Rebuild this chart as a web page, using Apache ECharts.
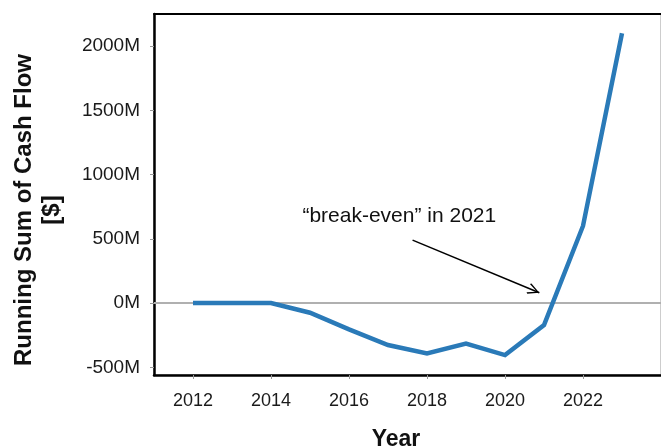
<!DOCTYPE html>
<html>
<head>
<meta charset="utf-8">
<script src="https://cdn.jsdelivr.net/npm/echarts@6/dist/echarts.min.js"></script>
<style>
  html, body { margin: 0; padding: 0; background: #fff; }
  #chart { width: 661px; height: 448px; }
</style>
</head>
<body>
<div id="chart"></div>
<script>
// ---- data ----
const years = [2012, 2013, 2014, 2015, 2016, 2017, 2018, 2019, 2020, 2021, 2022, 2023];
const runningSumM = [0, 0, 0, -75, -205, -327, -392, -316, -405, -171, 600, 2100];
const annotationText = '\u201Cbreak-even\u201D in 2021';

// annotation anchors (data coordinates)
const annotationAt = [2017.29, 673];
const arrowFrom = [2017.63, 490];
const arrowTo = [2020.88, 80];

const FONT = '"Liberation Sans", Arial, sans-serif';
const chevron = 'path://M5,0 L10,9 L9,10 L5,2.2 L1,10 L0,9 Z';

const chart = echarts.init(document.getElementById('chart'), null, { renderer: 'canvas' });
chart.setOption({
  animation: false,
  backgroundColor: '#fff',
  grid: {
    left: 154, right: 0, top: 14, bottom: 73,
    show: true, borderColor: '#9a9a9a', borderWidth: 1,
    containLabel: false, outerBoundsMode: 'none'
  },
  xAxis: [{
    type: 'value', min: 2011, max: 2024, splitNumber: 6,
    name: 'Year', nameLocation: 'middle', nameGap: 53,
    nameTextStyle: { fontFamily: FONT, fontSize: 23, fontWeight: 'bold', color: '#111', padding: [0, 23, 0, 0] },
    axisLine: { show: true, onZero: false, lineStyle: { color: '#000', width: 2.5 } },
    axisTick: { show: true, length: 4, lineStyle: { color: '#999', width: 1 } },
    axisLabel: {
      fontFamily: FONT, fontSize: 18, color: '#1a1a1a', margin: 17,
      showMinLabel: false, showMaxLabel: false,
      formatter: v => String(v)
    },
    splitLine: { show: false }
  }, {
    type: 'value', min: 2011, max: 2024, position: 'top',
    axisLine: { show: true, onZero: false, lineStyle: { color: '#000', width: 2 } },
    axisTick: { show: false }, axisLabel: { show: false }, splitLine: { show: false }
  }],
  yAxis: {
    type: 'value', min: -560, max: 2250,
    name: 'Running Sum of Cash Flow\n[$]', nameLocation: 'middle', nameGap: 88, nameRotate: 90,
    nameTextStyle: { fontFamily: FONT, fontSize: 24, fontWeight: 'bold', color: '#111', lineHeight: 28, align: 'center', padding: [0, 31, 0, 0] },
    axisLine: { show: true, onZero: false, lineStyle: { color: '#000', width: 2.5 } },
    axisTick: { show: true, length: 4, lineStyle: { color: '#999', width: 1 } },
    axisLabel: {
      fontFamily: FONT, fontSize: 19, color: '#1a1a1a', margin: 14,
      showMinLabel: false, showMaxLabel: false,
      formatter: v => v + 'M'
    },
    splitLine: { show: false }
  },
  series: [{
    type: 'line', data: [], z: 1, silent: true,
    markLine: {
      z: 1, silent: true, symbol: 'none', label: { show: false },
      lineStyle: { color: '#b0b0b0', width: 2, type: 'solid' },
      data: [{ yAxis: 0 }]
    }
  }, {
    type: 'line', z: 3, silent: true,
    data: years.map((y, i) => [y, runningSumM[i]]),
    showSymbol: false, symbol: 'none',
    lineStyle: { color: '#2a7ab8', width: 4.5, cap: 'butt', join: 'miter' },
    markLine: {
      silent: true,
      symbol: ['none', chevron], symbolSize: [11, 12], symbolOffset: [0, [0, 6]],
      label: { show: false },
      lineStyle: { color: '#000', width: 1.5, type: 'solid' },
      data: [[{ coord: arrowFrom }, { coord: arrowTo }]]
    },
    markPoint: {
      silent: true, symbol: 'circle', symbolSize: 0,
      label: { show: true, position: 'inside', formatter: annotationText, fontFamily: FONT, fontSize: 21, color: '#111' },
      data: [{ coord: annotationAt }]
    }
  }]
});
</script>
</body>
</html>
